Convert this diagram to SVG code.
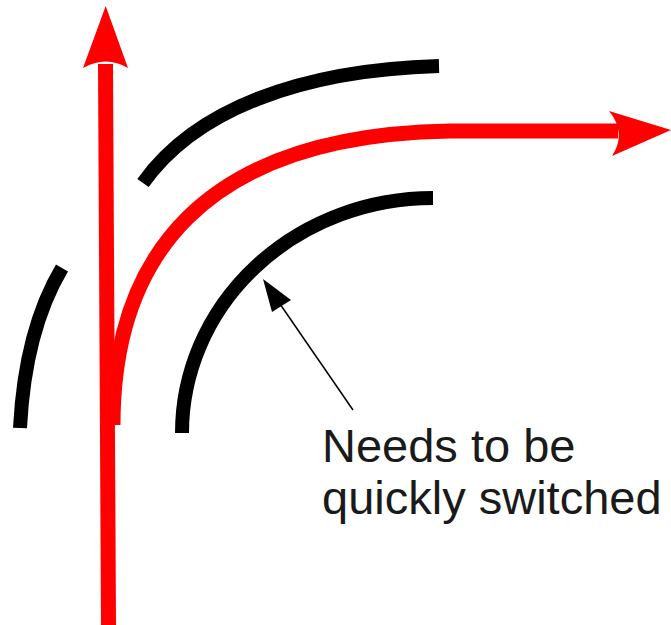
<svg xmlns="http://www.w3.org/2000/svg" width="671" height="625" viewBox="0 0 671 625">
<style>
.rail{fill:none;stroke:#000;stroke-width:14;stroke-linecap:butt}
.route{fill:none;stroke:#ff0000;stroke-width:15;stroke-linecap:butt}
.head{fill:#ff0000;stroke:none}
.lbl{font-family:"Liberation Sans",Arial,sans-serif;font-size:47px;fill:#1a1a1a}
</style>
<rect width="671" height="625" fill="#fff"/>
<g id="rail-top"><path class="rail" d="M143,183 C195,110 300,70 439,66"/></g>
<g id="rail-lower"><path class="rail" d="M182,433 A251,235 0 0 1 433,198"/></g>
<g id="rail-left"><path class="rail" d="M62,268 Q25,330 20,428"/></g>
<g id="connectors">
<g id="route-straight">
<path class="route" d="M108.5,625 L105.5,64"/>
<path class="head" d="M105.7,6 L128,68 Q106,55 83,68 Z"/>
</g>
<g id="route-curve">
<path class="route" d="M113,425 C113,260 200,135 450,131 L618,131"/>
<path class="head" d="M671,130 L612,156 Q627,133 609,111 Z"/>
</g>
<g id="pointer">
<line x1="353" y1="410" x2="280" y2="304" stroke="#000" stroke-width="1.5"/>
<path d="M263,279 L291,300 L272,312 Z" fill="#000"/>
</g>
</g>
<g id="label">
<text class="lbl" x="322" y="462">Needs to be</text>
<text class="lbl" x="322" y="514">quickly switched</text>
</g>
</svg>
